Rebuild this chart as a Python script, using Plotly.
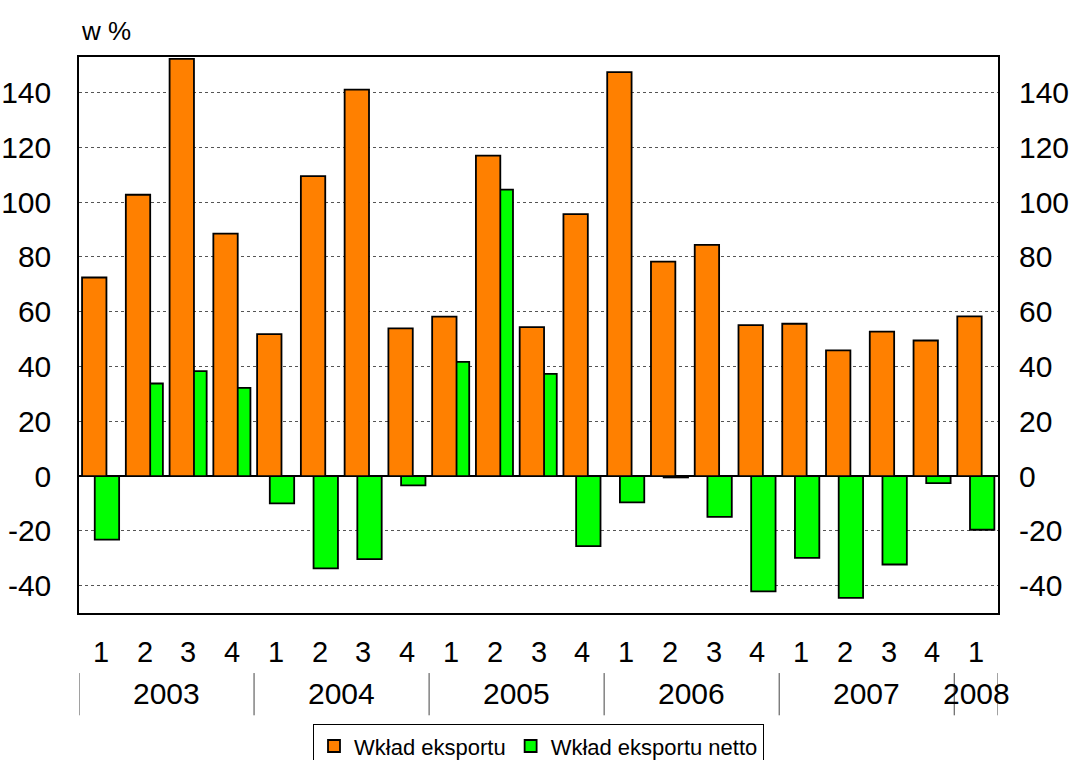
import plotly.graph_objects as go

# Quarterly contributions (in %)
quarters = ["1", "2", "3", "4"] * 5 + ["1"]
years = ["2003", "2004", "2005", "2006", "2007", "2008"]
quarters_per_year = [4, 4, 4, 4, 4, 1]
wklad_eksportu = [72.5, 102.7, 152.3, 88.5,
                  51.8, 109.5, 141.1, 53.9,
                  58.2, 117.0, 54.4, 95.6,
                  147.5, 78.3, 84.4, 55.1,
                  55.6, 45.9, 52.7, 49.5,
                  58.3]
wklad_netto = [-23.2, 33.8, 38.3, 32.2,
               -10.0, -33.7, -30.3, -3.4,
               41.7, 104.6, 37.3, -25.6,
               -9.6, -0.5, -14.9, -42.1,
               -29.9, -44.5, -32.3, -2.6,
               -19.6]
y_ticks = [-40, -20, 0, 20, 40, 60, 80, 100, 120, 140]
y_tick_text = [str(v) for v in y_ticks]

ORANGE = "#FF8000"
GREEN = "#00FF00"
FONT = "Liberation Sans, Arial, sans-serif"
TICK_FONT = dict(family=FONT, size=30, color="black")
QUARTER_FONT = dict(family=FONT, size=29, color="black")
YEAR_FONT = dict(family=FONT, size=30, color="black")

x = list(range(len(quarters)))
bar_w = 0.557

fig = go.Figure()
# net contribution drawn first so the export bars overlap it
fig.add_trace(go.Bar(
    x=x, y=wklad_netto, name="Wkład eksportu netto",
    width=bar_w, offset=-0.14,
    marker=dict(color=GREEN, line=dict(color="black", width=1.8)),
    legendrank=2,
))
fig.add_trace(go.Bar(
    x=x, y=wklad_eksportu, name="Wkład eksportu",
    width=bar_w, offset=-0.43,
    marker=dict(color=ORANGE, line=dict(color="black", width=1.8)),
    legendrank=1,
))
# carrier for the right-hand value axis
fig.add_trace(go.Scatter(
    x=[0], y=[0], yaxis="y2", mode="markers",
    marker=dict(opacity=0), showlegend=False, hoverinfo="skip",
))

yr = [-50, 153]
fig.update_layout(
    width=1070, height=760,
    margin=dict(l=79, r=72, t=57, b=147, autoexpand=False),
    paper_bgcolor="white", plot_bgcolor="white",
    barmode="overlay",
    showlegend=True,
    legend=dict(
        orientation="h", x=0.5, xanchor="center", y=-0.2, yanchor="top",
        font=dict(family=FONT, size=22, color="black"),
        bordercolor="black", borderwidth=1, bgcolor="white",
        tracegroupgap=0,
    ),
    xaxis=dict(
        range=[-0.5, len(quarters) - 0.5],
        showticklabels=False, ticks="", showgrid=False, zeroline=False,
        showline=True, linecolor="black", linewidth=1.5, mirror=True,
    ),
    yaxis=dict(
        range=yr, tickvals=y_ticks, ticktext=y_tick_text, ticks="",
        tickfont=TICK_FONT, ticklabelstandoff=20, automargin=False,
        showgrid=True, gridcolor="#555555", griddash="dot", gridwidth=1,
        zeroline=True, zerolinecolor="black", zerolinewidth=2,
        showline=True, linecolor="black", linewidth=1.5, mirror=True,
    ),
    yaxis2=dict(
        range=yr, tickvals=y_ticks, ticktext=y_tick_text, ticks="",
        tickfont=TICK_FONT, ticklabelstandoff=20, automargin=False,
        overlaying="y", side="right", showgrid=False, zeroline=False,
    ),
)

annotations = [dict(
    text="w %", xref="paper", yref="paper", x=0.0, y=1.0, yshift=26,
    xanchor="left", yanchor="middle", showarrow=False,
    font=dict(family=FONT, size=26, color="black"),
)]
for i, q in enumerate(quarters):
    annotations.append(dict(
        text=q, x=i, xref="x", yref="paper", y=-0.07, yanchor="middle",
        showarrow=False, font=QUARTER_FONT,
    ))

shapes = []
start = 0
for yname, n in zip(years, quarters_per_year):
    annotations.append(dict(
        text=yname, x=start + (n - 1) / 2, xref="x", yref="paper",
        y=-0.144, yanchor="middle", showarrow=False, font=YEAR_FONT,
    ))
    shapes.append(dict(
        type="line", xref="x", yref="paper", x0=start - 0.5, x1=start - 0.5,
        y0=-0.108, y1=-0.184, line=dict(color="#444444", width=1),
    ))
    start += n
shapes.append(dict(
    type="line", xref="x", yref="paper", x0=start - 0.5, x1=start - 0.5,
    y0=-0.108, y1=-0.184, line=dict(color="#444444", width=1),
))

fig.update_layout(annotations=annotations, shapes=shapes)
fig.write_html("out.html")
